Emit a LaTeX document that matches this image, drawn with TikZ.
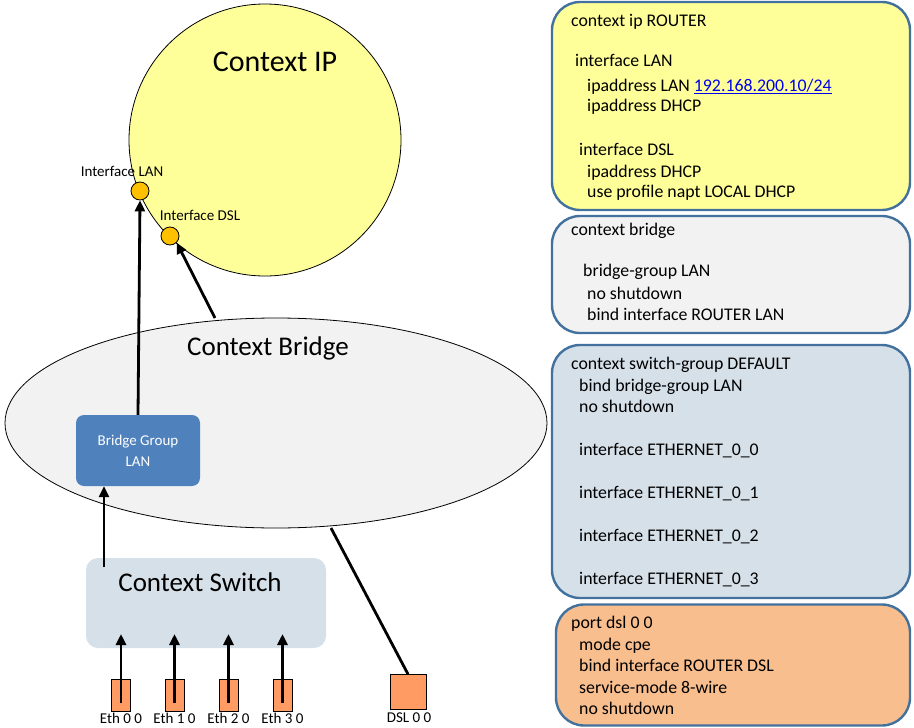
\documentclass[tikz,border=0pt]{standalone}
\usepackage{fontspec}
\setmainfont{Carlito}
\usetikzlibrary{shapes.geometric,arrows.meta,calc}
\definecolor{ipyellow}{HTML}{FFFF99}
\definecolor{dotgold}{HTML}{FFC000}
\definecolor{bridgegray}{HTML}{F2F2F2}
\definecolor{bgblue}{HTML}{4F81BD}
\definecolor{swblue}{HTML}{D6E0E8}
\definecolor{portorange}{HTML}{FF9B63}
\definecolor{boxborder}{HTML}{41719C}
\definecolor{cfgorange}{HTML}{F8BE8E}
\definecolor{linkblue}{HTML}{0000EE}
\tikzset{
  arr/.style={line width=2.8pt,-{Triangle[length=11pt,width=10pt]}},
  cfgbox/.style={draw=boxborder,line width=2.4pt,rounded corners=28pt},
  cfg/.style={anchor=base west,inner sep=0pt,font=\fontsize{17.8}{21}\selectfont},
  small/.style={font=\fontsize{15}{17}\selectfont,inner sep=0pt},
  big/.style={font=\fontsize{27}{32}\selectfont,inner sep=0pt},
  ifdot/.style={circle,draw=black,line width=0.8pt,fill=dotgold,minimum size=18pt,inner sep=0pt},
  port/.style={draw=black,line width=0.6pt,fill=portorange,inner sep=0pt},
}
\begin{document}
\begin{tikzpicture}[x=1pt,y=-1pt]
\useasboundingbox (0,0) rectangle (914,728);
% Context IP
\node[circle,draw=black,line width=0.8pt,fill=ipyellow,minimum size=272pt,inner sep=0pt] (ip) at (265,140) {};
\node[big,font=\fontsize{30}{36}\selectfont] (iplabel) at (275,62) {Context IP};
% Context Bridge
\node[ellipse,draw=black,line width=0.8pt,fill=bridgegray,minimum width=542pt,minimum height=210pt,inner sep=0pt] (bridge) at (276,423) {};
\node[big] (bridgelabel) at (268,348) {Context Bridge};
% Bridge group
\node[rounded corners=8pt,fill=bgblue,minimum width=124pt,minimum height=71pt,inner sep=0pt,align=center,text=white,font=\fontsize{15}{21}\selectfont] (bg) at (138,450.5) {Bridge Group\\LAN};
% Context switch
\node[rounded corners=12pt,fill=swblue,minimum width=240pt,minimum height=90pt,inner sep=0pt] (sw) at (206,603) {};
\node[big] (swlabel) at (200,582) {Context Switch};
% Interface dots
\node[ifdot] (lan) at (140,191) {};
\node[small] (lanlabel) at (122,171) {Interface LAN};
\node[ifdot] (dsl) at (170,236) {};
\node[small] (dsllabel) at (200,215) {Interface DSL};
% Ports
\foreach \i/\x in {0/121,1/174.5,2/228.5,3/282.5}{
  \node[port,minimum width=19pt,minimum height=32pt] (e\i) at (\x,695) {};
  \node[small] (e\i label) at (\x,718) {Eth \i\ 0};
}
\node[port,minimum width=36pt,minimum height=35pt] (dslport) at (408,692) {};
\node[small] (dslportlabel) at (409,718) {DSL 0 0};
% connectors
\coordinate (swtop) at (104,634);
\foreach \i in {0,1,2,3}{
  \draw[arr] ([yshift=-8pt]e\i.center) -- (e\i.center |- swtop);
}
\coordinate (swstart) at (104,567);
\draw[arr] (swstart) -- (swstart |- bg.south);
\draw[arr] (bg.north) -- (lan.south);
\coordinate (dslup) at (215,318);
\draw[arr] (dslup) -- (dsl.south east);
\coordinate (dslend) at (331,528);
\draw[line width=2.8pt] (dslport.north) -- (dslend);
% Config boxes
\node[cfgbox,fill=ipyellow,minimum width=358pt,minimum height=208pt,inner sep=0pt] (cfg1) at (731,106) {};
\node[cfg] (c1a) at (571,26) {context ip ROUTER};
\node[cfg] (c1b) at (575,66) {interface LAN};
\node[cfg] (c1c) at (587,91) {ipaddress LAN \textcolor{linkblue}{\underline{192.168.200.10/24}}};
\node[cfg] (c1d) at (587,111) {ipaddress DHCP};
\node[cfg] (c1e) at (579,155) {interface DSL};
\node[cfg] (c1f) at (587,177) {ipaddress DHCP};
\node[cfg] (c1g) at (587,197) {use profile napt LOCAL DHCP};
\node[cfgbox,fill=bridgegray,minimum width=358pt,minimum height=117pt,inner sep=0pt] (cfg2) at (731,274.5) {};
\node[cfg] (c2a) at (571,235) {context bridge};
\node[cfg] (c2b) at (583,276) {bridge-group LAN};
\node[cfg] (c2c) at (587,299) {no shutdown};
\node[cfg] (c2d) at (587,320) {bind interface ROUTER LAN};
\node[cfgbox,fill=swblue,minimum width=358pt,minimum height=253pt,inner sep=0pt] (cfg3) at (731,471.5) {};
\node[cfg] (c3a) at (571,369) {context switch-group DEFAULT};
\node[cfg] (c3b) at (579,391) {bind bridge-group LAN};
\node[cfg] (c3c) at (579,412) {no shutdown};
\node[cfg] (c3d) at (579,455) {interface ETHERNET\_0\_0};
\node[cfg] (c3e) at (579,498) {interface ETHERNET\_0\_1};
\node[cfg] (c3f) at (579,541) {interface ETHERNET\_0\_2};
\node[cfg] (c3g) at (579,584) {interface ETHERNET\_0\_3};
\node[cfgbox,fill=cfgorange,minimum width=354pt,minimum height=121pt,inner sep=0pt] (cfg4) at (733,665) {};
\node[cfg] (c4a) at (571,628) {port dsl 0 0};
\node[cfg] (c4b) at (579,650) {mode cpe};
\node[cfg] (c4c) at (579,671) {bind interface ROUTER DSL};
\node[cfg] (c4d) at (579,693) {service-mode 8-wire};
\node[cfg] (c4e) at (579,714) {no shutdown};
\end{tikzpicture}
\end{document}
